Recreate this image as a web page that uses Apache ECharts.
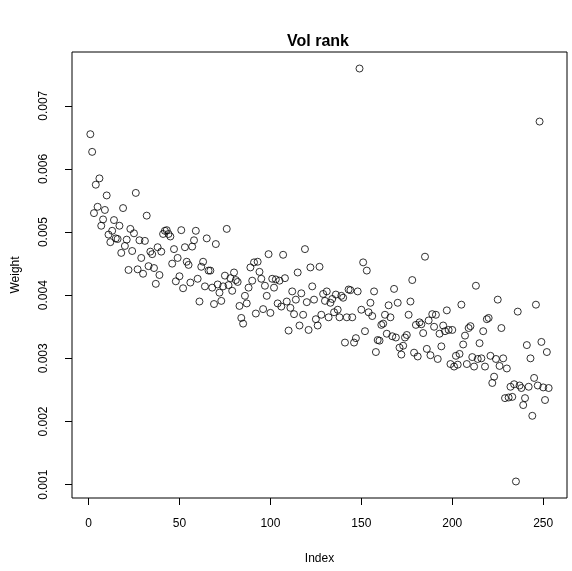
<!DOCTYPE html>
<html>
<head>
<meta charset="utf-8">
<script src="https://cdn.jsdelivr.net/npm/echarts@6/dist/echarts.min.js"></script>
<style>html,body{margin:0;padding:0;background:#fff}#c{width:572px;height:571px}</style>
</head>
<body>
<div id="c"></div>
<script>
const titleText = 'Vol rank';
const xName = 'Index';
const yName = 'Weight';
const xTicks = [0, 50, 100, 150, 200, 250];
const yTicks = [0.001, 0.002, 0.003, 0.004, 0.005, 0.006, 0.007];
const weights = [
0.00655,0.00627,0.0053,0.00575,0.0054,0.00585,0.0051,0.0052,0.00535,0.00558,
0.00496,0.00484,0.00502,0.00519,0.0049,0.00489,0.0051,0.00467,0.00538,0.00478,
0.00488,0.0044,0.00505,0.0047,0.00498,0.00562,0.00441,0.00487,0.00459,0.00434,
0.00486,0.00526,0.00446,0.00469,0.00465,0.00443,0.00418,0.00476,0.00432,0.00469,
0.00497,0.00502,0.00503,0.00497,0.00493,0.0045,0.00473,0.00422,0.00459,0.0043,
0.00503,0.00411,0.00476,0.00453,0.00448,0.0042,0.00477,0.00487,0.00502,0.00426,
0.0039,0.00445,0.00453,0.00414,0.0049,0.00439,0.00439,0.00412,0.00386,0.00481,
0.00417,0.00404,0.00391,0.00414,0.00431,0.00505,0.00416,0.00427,0.00407,0.00436,
0.00424,0.00421,0.00383,0.00364,0.00355,0.00399,0.00387,0.00412,0.00444,0.00423,
0.00452,0.00371,
0.00453,0.00437,0.00426,0.00378,0.00415,0.00399,0.00465,0.00372,0.00426,0.00412,
0.00425,0.00387,0.00423,0.00382,0.00464,0.00427,0.0039,0.00344,0.0038,0.00406,
0.0037,0.00393,0.00436,0.00352,0.00403,0.00369,0.00473,0.00389,0.00345,0.00444,
0.00414,
0.00393,0.00362,0.00352,0.00445,0.00369,0.00402,0.00391,0.00406,0.00365,0.00388,
0.00394,0.00373,0.00401,0.00377,0.00365,0.00399,0.00396,0.00325,0.00365,0.00409,
0.00408,0.00365,0.00325,0.00332,0.00406,0.00759,0.00377,0.00452,0.00343,0.00439,
0.00373,0.00388,
0.00367,0.00406,0.0031,0.00329,0.00328,0.00353,0.00355,0.00369,0.00339,0.00384,
0.00365,0.00335,0.0041,0.00333,0.00388,0.00317,0.00306,0.0032,0.00333,0.00337,
0.00369,0.0039,0.00424,0.00309,0.00353,0.00303,0.00357,0.00354,0.0034,0.00461,
0.00315,0.0036,
0.00305,0.0037,0.0035,0.00369,0.00299,0.00339,0.00319,0.00352,0.00343,0.00376,
0.00345,0.00291,0.00345,0.00287,0.00304,0.0029,0.00307,0.00385,0.00322,0.00336,
0.00291,0.00348,0.00351,0.00302,0.00287,0.00415,0.00299,0.00324,0.003,0.00343,
0.00287,
0.00362,0.00364,0.00304,0.00261,0.00271,0.00299,0.00393,0.00288,0.00348,0.003,
0.00237,0.00284,0.00238,0.00255,0.00239,0.00259,0.00105,0.00374,0.00257,0.00253,
0.00226,0.00237,0.00321,0.00255,0.003,0.00209,0.00269,0.00385,0.00257,0.00675,
0.00326,0.00254,0.00234,0.0031,0.00253
];

const n = weights.length;
const xPad = 0.04 * (n - 1);
const yMinV = Math.min(...weights), yMaxV = Math.max(...weights);
const yPad = 0.04 * (yMaxV - yMinV);
const points = weights.map((w, i) => [i + 1, w]);
const font = 'Liberation Sans, Arial, Helvetica, sans-serif';

const chart = echarts.init(document.getElementById('c'), null, {renderer: 'canvas'});
chart.setOption({
  animation: false,
  backgroundColor: '#fff',
  title: {
    text: titleText, left: 313, top: 29, textAlign: 'center',
    textStyle: {fontFamily: font, fontWeight: 'bold', fontSize: 16, color: '#000'}
  },
  grid: {left: 72, right: 5, top: 52, bottom: 73, show: true, borderColor: '#000', borderWidth: 1, backgroundColor: 'transparent'},
  xAxis: {
    type: 'value', min: 1 - xPad, max: n + xPad,
    name: xName, nameLocation: 'middle', nameGap: 55,
    nameTextStyle: {fontFamily: font, fontSize: 12, color: '#000'},
    axisLine: {show: false, onZero: false},
    splitLine: {show: false},
    axisTick: {show: true, inside: false, length: 7, customValues: xTicks, lineStyle: {color: '#000'}},
    axisLabel: {customValues: xTicks, margin: 20, fontFamily: font, fontSize: 12, color: '#000', showMinLabel: true, showMaxLabel: true}
  },
  yAxis: {
    type: 'value', min: yMinV - yPad, max: yMaxV + yPad,
    name: yName, nameLocation: 'middle', nameGap: 50,
    nameTextStyle: {fontFamily: font, fontSize: 12, color: '#000'},
    axisLine: {show: false, onZero: false},
    splitLine: {show: false},
    axisTick: {show: true, inside: false, length: 7, customValues: yTicks, lineStyle: {color: '#000'}},
    axisLabel: {customValues: yTicks, rotate: 90, margin: 22, fontFamily: font, fontSize: 12, color: '#000',
      formatter: v => v.toFixed(3)}
  },
  series: [{
    type: 'scatter', data: points, symbol: 'circle', symbolSize: 7,
    itemStyle: {color: 'rgba(0,0,0,0)', borderColor: '#000', borderWidth: 1}
  }]
});
</script>
</body>
</html>
